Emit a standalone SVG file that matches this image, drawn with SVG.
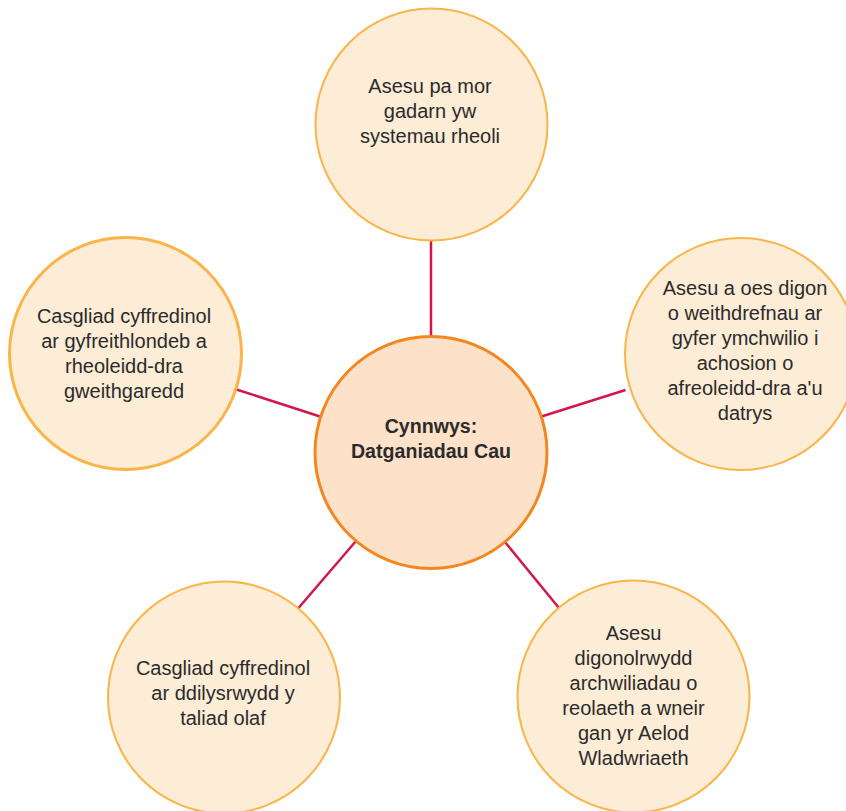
<svg xmlns="http://www.w3.org/2000/svg" width="846" height="811" viewBox="0 0 846 811">
<style>
.outer{fill:#FDECD6;stroke:#FBB447;stroke-width:2}
.outer.thick{stroke-width:3}
.hub{fill:#FDE1C8;stroke:#F5861F;stroke-width:3}
.conn{stroke:#D3174B;stroke-width:2.5;fill:none}
text{font-family:"Liberation Sans",Arial,sans-serif;font-size:20px;fill:#2B2B2B;text-anchor:middle}
.bold{font-weight:bold;font-size:19.6px}
</style>
<rect width="846" height="811" fill="#FFFFFF"/>
<g id="connectors">
<line class="conn" x1="431" y1="241" x2="431" y2="337"/>
<line class="conn" x1="236.5" y1="389.5" x2="320" y2="416.5"/>
<line class="conn" x1="625.5" y1="390" x2="541.5" y2="416.5"/>
<line class="conn" x1="298.5" y1="608" x2="356" y2="541"/>
<line class="conn" x1="559" y1="608" x2="505" y2="542"/>
</g>
<g id="node-top">
<circle class="outer" cx="431.5" cy="124.5" r="116"/>
<text x="430" y="92.5">Asesu pa mor</text>
<text x="430" y="117.5">gadarn yw</text>
<text x="430" y="142.5">systemau rheoli</text>
</g>
<g id="node-left">
<circle class="outer thick" cx="125.5" cy="353.5" r="116"/>
<text x="124" y="322.5">Casgliad cyffredinol</text>
<text x="124" y="347.5">ar gyfreithlondeb a</text>
<text x="124" y="372.5">rheoleidd-dra</text>
<text x="124" y="397.5">gweithgaredd</text>
</g>
<g id="node-right">
<circle class="outer" cx="741" cy="354" r="116"/>
<text x="745" y="294.5">Asesu a oes digon</text>
<text x="745" y="319.5">o weithdrefnau ar</text>
<text x="745" y="344.5">gyfer ymchwilio i</text>
<text x="745" y="369.5">achosion o</text>
<text x="745" y="394.5">afreoleidd-dra a'u</text>
<text x="745" y="419.5">datrys</text>
</g>
<g id="node-bottom-left">
<circle class="outer" cx="224" cy="697.5" r="116"/>
<text x="223" y="674.5">Casgliad cyffredinol</text>
<text x="223" y="699.5">ar ddilysrwydd y</text>
<text x="223" y="724.5">taliad olaf</text>
</g>
<g id="node-bottom-right">
<circle class="outer" cx="633.5" cy="696.5" r="116"/>
<text x="633.5" y="640">Asesu</text>
<text x="633.5" y="665">digonolrwydd</text>
<text x="633.5" y="690">archwiliadau o</text>
<text x="633.5" y="715">reolaeth a wneir</text>
<text x="633.5" y="740">gan yr Aelod</text>
<text x="633.5" y="765">Wladwriaeth</text>
</g>
<g id="node-center">
<circle class="hub" cx="431" cy="452.5" r="116"/>
<text class="bold" x="431" y="433">Cynnwys:</text>
<text class="bold" x="431" y="458">Datganiadau Cau</text>
</g>
</svg>
